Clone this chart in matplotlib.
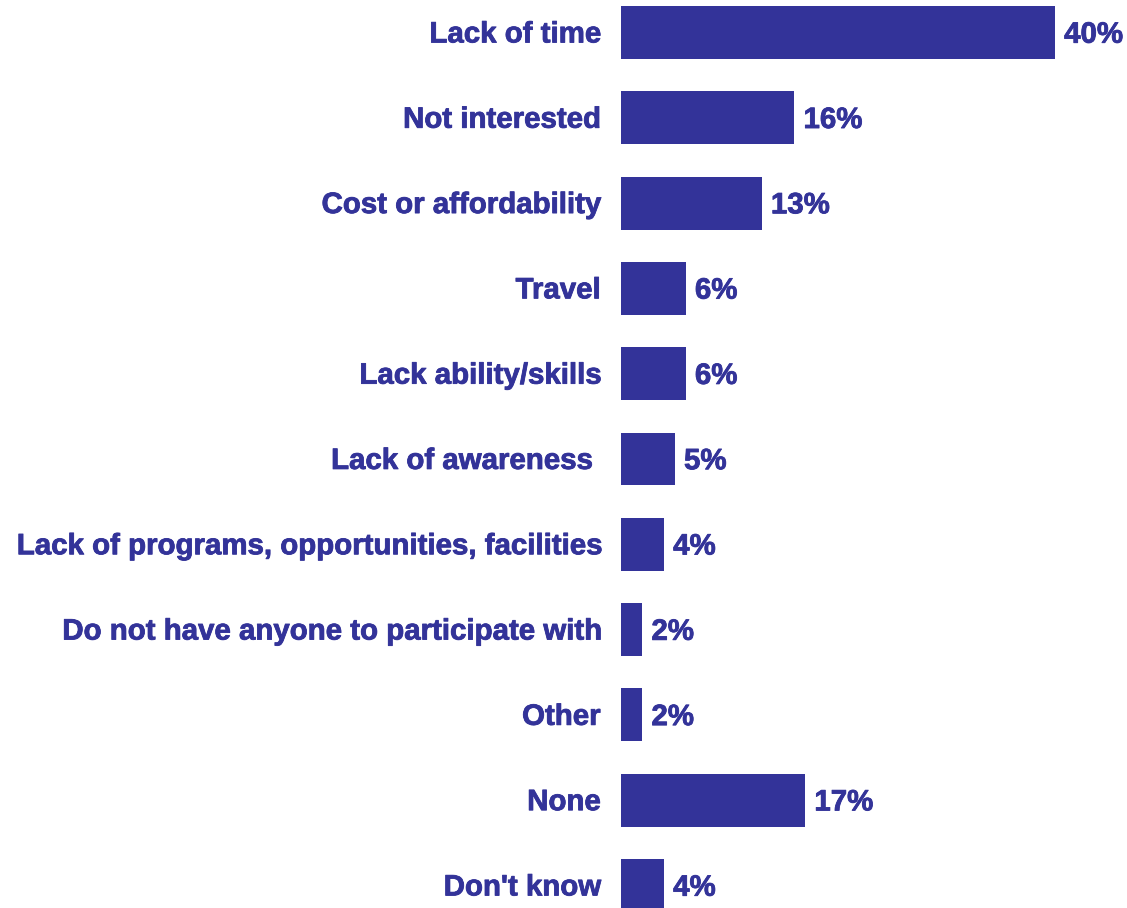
import matplotlib
matplotlib.use("Agg")
import matplotlib.pyplot as plt
import matplotlib.patheffects as pe

categories = [
    "Lack of time",
    "Not interested",
    "Cost or affordability",
    "Travel",
    "Lack ability/skills",
    "Lack of awareness ",
    "Lack of programs, opportunities, facilities",
    "Do not have anyone to participate with",
    "Other",
    "None",
    "Don't know",
]
values = [40, 16, 13, 6, 6, 5, 4, 2, 2, 17, 4]
value_labels = [f"{v}%" for v in values]

color = "#333399"
plt.rcParams["font.family"] = ["Liberation Sans", "DejaVu Sans"]
heavy = [pe.withStroke(linewidth=0.6, foreground=color)]

fig = plt.figure(figsize=(11.27, 9.08), dpi=100)
ax = fig.add_axes([0.55075, -0.02219, 0.4433, 1.03337])

pos = list(range(len(categories)))
bars = ax.barh(pos, values, height=0.621, color=color)
ax.set_ylim(len(categories) - 0.5, -0.5)
ax.set_xlim(0, 46)
ax.set_xticks([])
ax.set_yticks([])
for s in ax.spines.values():
    s.set_visible(False)

# category names to the left of the bars
for i, name in zip(pos, categories):
    ax.annotate(name, xy=(0, i), xycoords=("axes fraction", "data"),
                xytext=(-14.4, -1.4), textcoords="offset points",
                ha="right", va="center", fontsize=21.2, fontweight="bold",
                color=color, path_effects=heavy)

# value labels at the bar ends
for i, v, lab in zip(pos, values, value_labels):
    ax.annotate(lab, xy=(v, i), xycoords="data",
                xytext=(6.5, -1.6), textcoords="offset points",
                ha="left", va="center", fontsize=21.2, fontweight="bold",
                color=color, path_effects=heavy)

fig.savefig("out.png", dpi=100)
